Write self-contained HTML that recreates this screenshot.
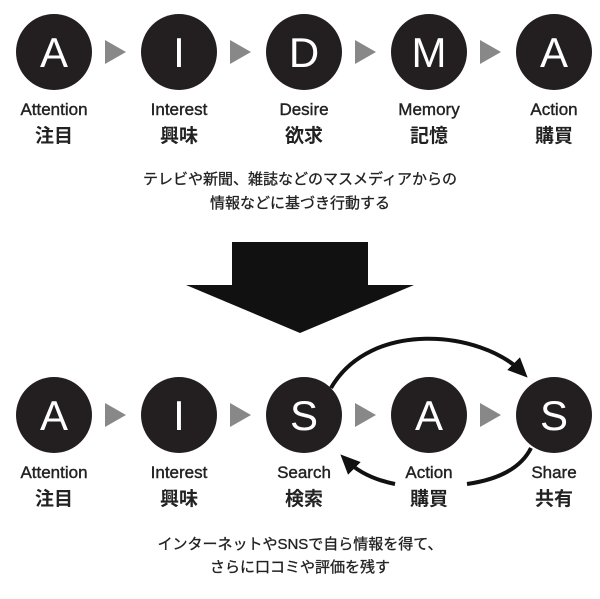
<!DOCTYPE html>
<html><head><meta charset="utf-8"><style>
body{margin:0;width:600px;height:594px;background:#fff;overflow:hidden}
svg text{font-family:"Liberation Sans","Noto Sans CJK JP",sans-serif}
</style></head><body>
<svg width="600" height="594" viewBox="0 0 600 594" xmlns="http://www.w3.org/2000/svg">
<defs><marker id="ah" markerWidth="20" markerHeight="20" refX="12" refY="10" orient="auto" markerUnits="userSpaceOnUse" viewBox="0 0 20 20"><path d="M0,1 L20,10 L0,19 z" fill="#111"/></marker></defs>
<g fill="#231f20">
<circle cx="54" cy="52" r="38"/><circle cx="179" cy="52" r="38"/><circle cx="304" cy="52" r="38"/><circle cx="429" cy="52" r="38"/><circle cx="554" cy="52" r="38"/>
<circle cx="54" cy="415" r="38"/><circle cx="179" cy="415" r="38"/><circle cx="304" cy="415" r="38"/><circle cx="429" cy="415" r="38"/><circle cx="554" cy="415" r="38"/>
</g>
<g fill="#888">
<path d="M105,40 L126,52 L105,64z"/><path d="M230,40 L251,52 L230,64z"/><path d="M355,40 L376,52 L355,64z"/><path d="M480,40 L501,52 L480,64z"/>
<path d="M105,403 L126,415 L105,427z"/><path d="M230,403 L251,415 L230,427z"/><path d="M355,403 L376,415 L355,427z"/><path d="M480,403 L501,415 L480,427z"/>
</g>
<g fill="#fff" font-size="42" text-anchor="middle">
<text x="54" y="67">A</text><text x="179" y="67">I</text><text x="304" y="67">D</text><text x="429" y="67">M</text><text x="554" y="67">A</text>
<text x="54" y="430">A</text><text x="179" y="430">I</text><text x="304" y="430">S</text><text x="429" y="430">A</text><text x="554" y="430">S</text>
</g>
<g fill="#222" font-size="17" text-anchor="middle" stroke="#222" stroke-width="0.4">
<text x="54" y="115">Attention</text><text x="179" y="115">Interest</text><text x="304" y="115">Desire</text><text x="429" y="115">Memory</text><text x="554" y="115">Action</text>
<text x="54" y="478">Attention</text><text x="179" y="478">Interest</text><text x="304" y="478">Search</text><text x="429" y="478">Action</text><text x="554" y="478">Share</text>
</g>
<g fill="#222" font-size="19" font-weight="bold" text-anchor="middle">
<text x="54" y="142">注目</text><text x="179" y="142">興味</text><text x="304" y="142">欲求</text><text x="429" y="142">記憶</text><text x="554" y="142">購買</text>
<text x="54" y="505">注目</text><text x="179" y="505">興味</text><text x="304" y="505">検索</text><text x="429" y="505">購買</text><text x="554" y="505">共有</text>
</g>
<g fill="#222" font-size="15" text-anchor="middle" stroke="#222" stroke-width="0.3">
<text x="300" y="184">テレビや新聞、雑誌などのマスメディアからの</text>
<text x="300" y="208">情報などに基づき行動する</text>
<text x="300" y="549">インターネットやSNSで自ら情報を得て、</text>
<text x="300" y="572">さらに口コミや評価を残す</text>
</g>
<path d="M232,242 H368 V285 H414 L300,333 L186,285 H232z" fill="#111"/>
<g fill="none" stroke="#111" stroke-width="4">
<path d="M331,388 C370,320 480,330 522,372" marker-end="url(#ah)"/>
<path d="M531,448 C520,470 495,480 467,484"/>
<path d="M395,484 C375,480 358,472 346,460" marker-end="url(#ah)"/>
</g>
</svg>
</body></html>
